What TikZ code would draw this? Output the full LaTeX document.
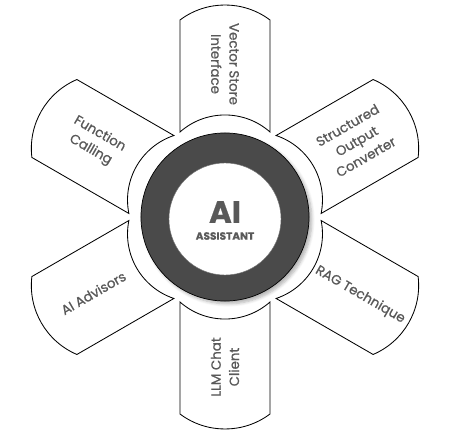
\documentclass[tikz,border=0pt]{standalone}
\usepackage{fontspec}
\setmainfont{Poppins}[FakeBold=0.6]
\newfontfamily\petalfont{Poppins}[FakeBold=0.8]
\usetikzlibrary{shadows.blur}
\definecolor{ringgray}{HTML}{4A4A4A}
\definecolor{labelgray}{HTML}{595959}

\begin{document}
\begin{tikzpicture}[
    x=0.025cm, y=0.025cm,
    every node/.style={text=labelgray},
    petalline/.style={
        draw=black,
        line width=0.6pt,
        fill=white
    },
    petal/.pic={
        \draw[petalline] (85,-45) .. controls (107.7,-19.3) and (107.7,19.3) .. (85,45)
            -- (197,45) .. controls (217,18.4) and (217,-18.4) .. (197,-45) -- cycle;
    },
    petaltext/.style={
        font=\petalfont\fontsize{9.5}{13}\selectfont,
        align=center,
        inner sep=0pt
    },
    ring/.style={
        circle,
        draw=black,
        line width=0.5pt,
        fill=ringgray,
        minimum size=4.2cm,
        blur shadow={shadow xshift=2pt, shadow yshift=-2pt,
            shadow blur steps=6, shadow opacity=30}
    },
    hub/.style={
        circle,
        draw=ringgray!80,
        line width=0.3pt,
        fill=white,
        minimum size=2.8cm
    },
    bigtext/.style={
        font=\fontsize{22}{24}\selectfont\bfseries
    },
    smalltext/.style={
        font=\fontsize{7.5}{9}\selectfont\bfseries
    }
]

\useasboundingbox (-225,-216) rectangle (229,217);

% petals
\pic (vstore) [rotate=90] {petal};
\pic (soutput) [rotate=30] {petal};
\pic (rag) [rotate=-30] {petal};
\pic (llm) [rotate=-90] {petal};
\pic (advisors) [rotate=210] {petal};
\pic (fcall) [rotate=150] {petal};

\node[petaltext, rotate=-90] (vstoretext) at (90:153) {Vector Store\\Interface};
\node[petaltext, rotate=30] (soutputtext) at (30:152) {Structured\\Output\\Converter};
\node[petaltext, rotate=-30] (ragtext) at (-30:156) {RAG Technique};
\node[petaltext, rotate=90] (llmtext) at (-90:150) {LLM Chat\\Client};
\node[petaltext, rotate=30] (advisorstext) at (210:152) {AI Advisors};
\node[petaltext, rotate=-30] (fcalltext) at (150:150) {Function\\Calling};

% hub
\node[ring] (ring) at (0,0) {};
\node[hub] (hub) at (0,-2) {};
\node[bigtext] (ai) at (0,5) {AI};
\node[smalltext] (assistant) at (0,-19) {ASSISTANT};

\end{tikzpicture}
\end{document}
